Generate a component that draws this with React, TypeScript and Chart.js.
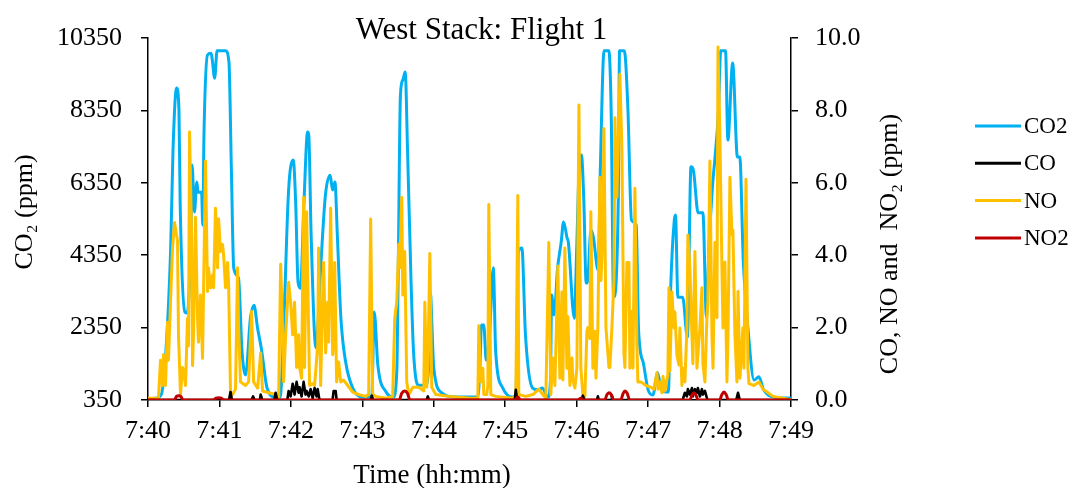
import React, { useEffect, useRef } from "react";
import { Chart, registerables } from "chart.js";

Chart.register(...registerables);

// ---- Data (time in seconds after 7:40, values in ppm) ----
const chartTitle = "West Stack: Flight 1";
const xAxisTitle = "Time (hh:mm)";
const leftAxisTitle = "CO\u2082 (ppm)";
const rightAxisTitle = "CO, NO and  NO\u2082 (ppm)";
const seriesNames = ["CO2", "CO", "NO", "NO2"];
const xTickSeconds = [0, 60, 120, 180, 240, 300, 360, 420, 480, 540];
const xTickLabels = ["7:40", "7:41", "7:42", "7:43", "7:44", "7:45", "7:46", "7:47", "7:48", "7:49"];
const leftTicks = [350, 2350, 4350, 6350, 8350, 10350];
const rightTicks = [0, 2, 4, 6, 8, 10];

const co2Readings: [number, number][] = [
  [0, 380], [6, 400], [11, 490], [15, 1680], [19, 4490], [21, 7250], [24, 8970], [26, 8360], [27, 5820],
  [31, 2780], [33, 2750], [36, 4910], [37, 6840], [39, 5540], [41, 6370], [42, 6090], [45, 6090], [46, 5180],
  [47, 7670], [50, 9880], [53, 9930], [54, 9740], [56, 9240], [58, 10000], [65, 10000], [68, 9680], [70, 6760],
  [72, 4000], [76, 3720], [79, 1680], [82, 1040], [86, 2610], [89, 2970], [92, 2340], [95, 1810], [96, 1590],
  [100, 680], [107, 430], [111, 430], [114, 2420], [118, 6100], [122, 6980], [124, 5820], [126, 3610],
  [128, 3440], [131, 5820], [134, 7750], [135, 7670], [137, 4910], [141, 1790], [145, 4000], [149, 6010],
  [153, 6560], [155, 6150], [157, 6370], [159, 4910], [162, 2610], [166, 1400], [172, 680], [180, 430],
  [186, 430], [188, 490], [190, 2780], [193, 1320], [200, 570], [206, 430], [209, 1180], [210, 3530],
  [212, 8770], [214, 9190], [216, 9410], [218, 7200], [221, 3530], [223, 1680], [227, 760], [233, 760],
  [236, 1450], [237, 3330], [240, 1230], [247, 540], [258, 430], [277, 430], [279, 1450], [280, 2420],
  [282, 2420], [284, 1450], [287, 2280], [290, 4000], [292, 1680], [298, 680], [306, 430], [309, 490],
  [310, 2280], [311, 4440], [314, 4550], [317, 2150], [323, 680], [328, 630], [331, 680], [336, 430],
  [338, 900], [339, 3250], [341, 2700], [344, 4000], [347, 4710], [349, 5270], [352, 4820], [353, 4710],
  [358, 2610], [360, 4490], [362, 6700], [364, 7120], [366, 5870], [368, 3580], [369, 3580], [372, 5050],
  [374, 4850], [378, 3940], [380, 6900], [383, 10000], [387, 10000], [389, 8280], [391, 3190], [395, 5960],
  [396, 10000], [400, 10000], [403, 8420], [406, 5320], [410, 5180], [412, 2280], [416, 1370], [420, 630],
  [424, 490], [428, 1100], [431, 630], [437, 570], [439, 3470], [442, 5320], [443, 5460], [445, 3190],
  [449, 3190], [453, 2090], [456, 6790], [458, 6700], [462, 5520], [466, 5520], [469, 2640], [471, 4490],
  [474, 6230], [476, 6980], [479, 8280], [481, 10000], [485, 10000], [487, 7530], [491, 9660], [495, 7060],
  [497, 7060], [500, 4130], [504, 2280], [509, 900], [513, 990], [517, 630], [526, 430], [540, 400],
];

const coReadings: [number, number][] = [
  [0, 0], [68, 0], [69.3, 0.22], [70.5, 0], [87, 0], [88.2, 0.1], [89.5, 0], [94, 0], [94.6, 0.15], [96, 0],
  [106, 0], [107.2, 0.2], [108.5, 0], [117, 0], [118.1, 0.25], [119.8, 0.1], [121.5, 0.45], [123.1, 0.15],
  [124.8, 0.5], [126.5, 0.2], [127.3, 0.35], [129, 0.1], [130.7, 0.5], [132.3, 0.15], [133.2, 0.25],
  [135, 0.1], [136.6, 0.3], [138.3, 0.05], [139.9, 0.33], [141.6, 0.1], [142.5, 0.3], [144, 0], [155, 0],
  [155.9, 0.25], [157.6, 0.25], [158.4, 0], [187, 0], [188, 0.12], [189, 0], [234, 0], [235, 0.1], [236, 0],
  [308, 0], [308.9, 0.28], [310, 0], [364, 0], [365.2, 0.12], [366.5, 0], [377, 0], [377.8, 0.1], [378.6, 0],
  [389, 0], [389.6, 0.12], [390.5, 0], [449, 0], [450.9, 0.2], [452.6, 0.1], [453.4, 0.3], [455.1, 0.15],
  [456.8, 0.33], [457.6, 0.1], [459.3, 0.3], [461, 0.2], [461.8, 0.33], [463.5, 0.1], [465.2, 0.3],
  [466, 0.15], [467.7, 0.25], [469.4, 0.05], [470, 0], [494, 0], [495.5, 0.2], [497, 0], [540, 0],
];

const noReadings: [number, number][] = [
  [0, 0.05], [8.8, 0.05], [10.5, 1.1], [12.2, 0.4], [13.0, 1.25], [14.7, 0.4], [16.4, 2.15], [17.2, 1.1],
  [18.9, 2.7], [20.6, 4.2], [22.3, 4.9], [24.0, 4.55], [24.8, 4.4], [25.6, 1.8], [27.3, 0.15], [29.0, 0.9],
  [29.8, 0.8], [31.5, 0.4], [33.2, 2.25], [34.0, 1.5], [34.9, 7.4], [36.6, 4.55], [37.4, 0.95], [38.2, 1.8],
  [39.9, 5.05], [41.6, 2.25], [42.4, 1.6], [44.1, 2.9], [45.8, 1.15], [48.3, 6.6], [50.0, 3.0], [50.8, 3.65],
  [52.5, 3.1], [54.2, 3.45], [55.1, 3.1], [56.7, 5.3], [58.4, 3.65], [59.3, 5.0], [60.9, 4.1], [62.6, 4.3],
  [63.5, 4.0], [65.1, 3.1], [66.8, 3.8], [67.7, 3.2], [69.3, 0.2], [71.0, 0.15], [73.5, 0.3], [75.2, 3.65],
  [76.1, 2.0], [77.7, 0.5], [81.9, 0.4], [84.5, 0.5], [87.0, 2.45], [88.7, 0.5], [92.1, 0.33], [94.6, 1.3],
  [96.2, 0.25], [101.3, 0.2], [107.2, 0.15], [109.7, 0.05], [111.4, 3.75], [113.0, 2.0], [113.9, 0.5],
  [115.6, 1.8], [118.1, 3.25], [119.8, 2.7], [121.5, 1.8], [123.1, 2.7], [124.8, 0.9], [126.5, 1.8],
  [127.3, 0.9], [129.0, 0.6], [130.7, 5.6], [131.5, 0.9], [133.2, 5.2], [135.7, 0.4], [138.3, 0.45],
  [139.9, 0.4], [142.5, 1.5], [143.3, 4.2], [145.0, 0.4], [146.7, 2.9], [147.5, 3.8], [149.2, 1.3],
  [150.9, 2.7], [151.7, 1.6], [153.4, 5.3], [155.1, 1.25], [155.9, 1.6], [156.8, 3.8], [158.4, 0.5],
  [160.1, 1.05], [161.8, 0.5], [164.3, 0.55], [167.7, 0.4], [171.9, 0.22], [176.9, 0.15], [182.8, 0.1],
  [185.3, 0.15], [187.0, 5.0], [188.7, 0.15], [191.2, 0.1], [199.6, 0.05], [205.5, 0.1], [207.2, 2.25],
  [208.9, 2.7], [210.6, 4.3], [211.4, 3.65], [213.1, 5.6], [214.0, 2.9], [215.6, 4.1], [217.3, 0.5],
  [219.0, 0.15], [222.4, 0.35], [227.4, 0.35], [231.6, 0.25], [232.5, 2.7], [234.1, 0.35], [235.0, 0.88],
  [236.7, 4.05], [238.3, 0.35], [241.7, 0.15], [252.6, 0.1], [271.1, 0.05], [277.0, 0.05], [277.8, 2.05],
  [279.5, 0.5], [281.2, 0.88], [282.0, 0.15], [284.5, 0.15], [285.4, 0.4], [286.2, 5.4], [287.9, 0.15],
  [292.1, 0.1], [306.4, 0.05], [308.9, 0.15], [310.6, 5.65], [311.4, 0.15], [317.3, 0.1], [323.2, 0.15],
  [328.2, 0.3], [331.6, 0.15], [334.1, 0.05], [336.6, 4.35], [338.3, 0.15], [340.0, 1.16], [341.7, 0.4],
  [343.4, 2.55], [344.2, 3.7], [345.9, 0.6], [347.6, 2.98], [348.4, 0.55], [350.1, 4.2], [351.8, 0.88],
  [352.6, 2.3], [354.3, 0.4], [356.0, 1.16], [356.8, 0.55], [358.5, 0.33], [360.2, 0.88], [361.9, 8.15],
  [363.5, 0.9], [365.2, 0.15], [366.9, 0.1], [368.6, 1.9], [369.4, 2.0], [371.1, 1.7], [371.9, 5.2],
  [373.6, 0.88], [375.3, 1.9], [376.2, 0.6], [377.8, 2.0], [379.5, 6.15], [380.4, 3.3], [382.0, 4.5],
  [382.9, 7.5], [384.6, 2.0], [387.1, 0.9], [387.9, 0.9], [389.6, 2.0], [391.3, 3.3], [392.1, 7.8],
  [393.8, 5.6], [395.5, 7.8], [396.3, 9.0], [398.0, 6.9], [399.7, 1.3], [400.5, 0.9], [402.2, 3.8],
  [403.9, 3.8], [404.7, 0.88], [406.4, 2.45], [407.3, 0.88], [408.9, 5.85], [410.6, 1.5], [411.4, 0.5],
  [414.0, 0.5], [418.1, 0.4], [422.4, 0.35], [424.9, 0.3], [427.4, 0.75], [428.3, 0.3], [429.9, 0.5],
  [431.6, 0.2], [432.5, 0.65], [434.1, 0.25], [436.6, 0.7], [437.5, 3.1], [438.3, 0.8], [440.0, 2.98],
  [441.7, 1.99], [442.5, 2.43], [444.2, 1.24], [445.9, 0.97], [446.7, 1.99], [448.4, 0.4], [449.2, 0.88],
  [450.9, 0.5], [452.6, 1.99], [453.4, 4.55], [455.1, 3.65], [456.8, 1.8], [457.6, 1.0], [459.3, 4.1],
  [461.0, 0.88], [461.8, 1.24], [463.5, 1.99], [465.2, 3.1], [466.0, 1.0], [467.7, 0.5], [469.4, 2.27],
  [470.2, 2.7], [471.9, 6.6], [473.6, 1.8], [474.5, 0.88], [476.1, 4.35], [477.8, 2.27], [478.7, 9.75],
  [480.3, 7.3], [482.0, 3.65], [482.9, 1.99], [484.5, 3.81], [486.2, 0.5], [487.1, 1.8], [488.7, 6.15],
  [490.4, 4.56], [491.2, 4.7], [492.9, 1.8], [494.6, 0.5], [495.5, 3.0], [497.1, 0.6], [499.6, 1.99],
  [500.5, 0.88], [502.2, 6.1], [503.8, 0.88], [504.7, 0.45], [508.9, 0.4], [513.1, 0.5], [516.5, 0.3],
  [520.7, 0.2], [524.9, 0.1], [533.3, 0.05], [540, 0.0],
];

const no2Readings: [number, number][] = [
  [0, 0], [22, 0], [24, 0.1], [25.6, 0.12], [27.5, 0.1], [29.5, 0], [55, 0], [57, 0.05], [59.3, 0.06],
  [61.5, 0.05], [64, 0], [211, 0], [213, 0.18], [215.6, 0.25], [218, 0.18], [220, 0], [308, 0], [310.6, 0.08],
  [313, 0], [361, 0], [363.5, 0.05], [365, 0], [383.5, 0], [385.5, 0.15], [387.1, 0.2], [389, 0.15], [391, 0],
  [397, 0], [399, 0.18], [400.5, 0.25], [402.5, 0.18], [404.5, 0], [455, 0], [457, 0.15], [458.5, 0.2],
  [460, 0.15], [462, 0], [480, 0], [482, 0.15], [483.7, 0.22], [485.5, 0.15], [487.5, 0], [540, 0],
];

const seriesColors = ["#00B0F0", "#000000", "#FFC000", "#C00000"];

const FONT = '"Liberation Serif", "Times New Roman", serif';

const toPoints = (rows: [number, number][]) => rows.map(([x, y]) => ({ x, y }));

const titlePlugin = {
  id: "westTitle",
  afterDraw(chart: any) {
    const { ctx, chartArea } = chart;
    ctx.save();
    ctx.font = `31px ${FONT}`;
    ctx.fillStyle = "#000";
    ctx.textAlign = "center";
    ctx.textBaseline = "alphabetic";
    ctx.fillText(chartTitle, (chartArea.left + chartArea.right) / 2 + 12, chartArea.top + 1);
    ctx.restore();
  },
};

const axisTitlePlugin = {
  id: "axisTitles",
  afterDraw(chart: any) {
    const { ctx, chartArea: a } = chart;
    ctx.save();
    ctx.fillStyle = "#000";
    ctx.textAlign = "center";
    ctx.textBaseline = "alphabetic";
    ctx.font = `27px ${FONT}`;
    ctx.fillText(xAxisTitle, a.left + 284, chart.height - 5);
    ctx.font = `26px ${FONT}`;
    ctx.save();
    ctx.translate(a.left - 116, a.top + 174);
    ctx.rotate(-Math.PI / 2);
    ctx.fillText(leftAxisTitle, 0, 0);
    ctx.restore();
    ctx.save();
    ctx.translate(a.right + 106, a.top + 206);
    ctx.rotate(-Math.PI / 2);
    ctx.fillText(rightAxisTitle, 0, 0);
    ctx.restore();
    ctx.restore();
  },
};

const sideLegendPlugin = {
  id: "sideLegend",
  afterDraw(chart: any) {
    const { ctx } = chart;
    const x0 = chart.width - 94;
    const y0 = 126;
    const gap = 37.3;
    ctx.save();
    chart.data.datasets.forEach((ds: any, i: number) => {
      const y = y0 + i * gap;
      ctx.strokeStyle = ds.borderColor;
      ctx.lineWidth = 3;
      ctx.lineCap = "butt";
      ctx.beginPath();
      ctx.moveTo(x0, y);
      ctx.lineTo(x0 + 46, y);
      ctx.stroke();
      ctx.fillStyle = "#000";
      ctx.font = `23px ${FONT}`;
      ctx.textAlign = "left";
      ctx.textBaseline = "middle";
      ctx.fillText(ds.label, x0 + 49, y + 1);
    });
    ctx.restore();
  },
};

export default function App() {
  const canvasRef = useRef<HTMLCanvasElement | null>(null);

  useEffect(() => {
    if (!canvasRef.current) return;
    const lineBase = {
      pointRadius: 0,
      pointHoverRadius: 0,
      fill: false,
      borderJoinStyle: "round" as const,
      borderCapStyle: "round" as const,
      tension: 0,
    };
    const axisGrid = { drawOnChartArea: false, drawTicks: true, tickLength: 7, color: "#000", lineWidth: 1.5 };
    const axisBorder = { display: true, color: "#000", width: 1.5 };
    const chart = new Chart(canvasRef.current, {
      type: "line",
      data: {
        datasets: [
          { ...lineBase, label: seriesNames[0], data: toPoints(co2Readings), borderColor: seriesColors[0], backgroundColor: seriesColors[0], borderWidth: 3, yAxisID: "y", order: 4, cubicInterpolationMode: "monotone" as const },
          { ...lineBase, label: seriesNames[1], data: toPoints(coReadings), borderColor: seriesColors[1], backgroundColor: seriesColors[1], borderWidth: 2.6, yAxisID: "y1", order: 2 },
          { ...lineBase, label: seriesNames[2], data: toPoints(noReadings), borderColor: seriesColors[2], backgroundColor: seriesColors[2], borderWidth: 3, yAxisID: "y1", order: 3 },
          { ...lineBase, label: seriesNames[3], data: toPoints(no2Readings), borderColor: seriesColors[3], backgroundColor: seriesColors[3], borderWidth: 3, yAxisID: "y1", order: 1, cubicInterpolationMode: "monotone" as const },
        ],
      },
      options: {
        animation: false,
        responsive: false,
        maintainAspectRatio: false,
        layout: { padding: { left: 0, right: 143, top: 38, bottom: 0 } },
        plugins: {
          legend: { display: false },
          title: { display: false },
          tooltip: { enabled: false },
        },
        scales: {
          x: {
            type: "linear",
            min: 0,
            max: 540,
            afterBuildTicks: (s: any) => { s.ticks = xTickSeconds.map((v) => ({ value: v })); },
            afterFit: (s: any) => { s.height = 88; },
            ticks: {
              autoSkip: false,
              maxRotation: 0,
              padding: 9,
              color: "#000",
              font: { family: FONT, size: 26 },
              callback: (v: any) => xTickLabels[xTickSeconds.indexOf(Number(v))] ?? "",
            },
            grid: axisGrid,
            border: axisBorder,
          },
          y: {
            type: "linear",
            position: "left",
            min: 350,
            max: 10350,
            afterBuildTicks: (s: any) => { s.ticks = leftTicks.map((v) => ({ value: v })); },
            afterFit: (s: any) => { s.width = 148; },
            ticks: { padding: 19, color: "#000", font: { family: FONT, size: 26 }, callback: (v: any) => String(v) },
            grid: axisGrid,
            border: axisBorder,
          },
          y1: {
            type: "linear",
            position: "right",
            min: 0,
            max: 10,
            afterBuildTicks: (s: any) => { s.ticks = rightTicks.map((v) => ({ value: v })); },
            afterFit: (s: any) => { s.width = 135; },
            ticks: { padding: 17, color: "#000", font: { family: FONT, size: 26 }, callback: (v: any) => Number(v).toFixed(1) },
            grid: axisGrid,
            border: axisBorder,
          },
        },
      },
      plugins: [titlePlugin, axisTitlePlugin, sideLegendPlugin],
    });
    return () => chart.destroy();
  }, []);

  return (
    <div style={{ position: "fixed", left: 0, top: 0, width: 1069, height: 488, background: "#fff" }}>
      <canvas ref={canvasRef} width={1069} height={488} style={{ display: "block" }} />
    </div>
  );
}
